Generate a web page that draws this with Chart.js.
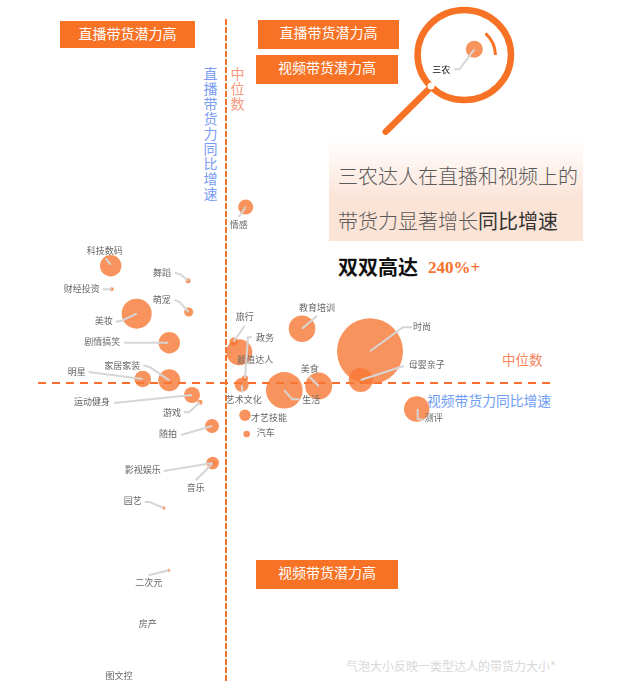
<!DOCTYPE html>
<html>
<head>
<meta charset="utf-8">
<script src="https://cdn.jsdelivr.net/npm/chart.js@4"></script>
<style>
body { margin: 0; background: #fff; font-family: "Noto Sans CJK SC", sans-serif; }
#wrap { position: relative; width: 635px; height: 695px; overflow: hidden; }
#wrap canvas, #wrap svg { position: absolute; left: 0; top: 0; }
.banner { position: absolute; background: #f77225; color: #fff; font-size: 14px; line-height: 24px; text-align: center; }
.note { position: absolute; white-space: nowrap; line-height: 1; }
.vert { position: absolute; width: 15px; font-size: 14px; line-height: 15px; text-align: center; }
#panel { position: absolute; left: 329px; top: 140px; width: 254px; height: 101px; background: linear-gradient(to bottom, rgba(251,224,208,0), #fbe3d6 60%, #fbe3d6); }
</style>
</head>
<body>
<div id="wrap">
  <svg width="635" height="695">
    <ellipse cx="464.3" cy="55" rx="46.7" ry="45" fill="none" stroke="#f77225" stroke-width="6.5"/>
    <line x1="430.7" y1="87.3" x2="385.7" y2="131.7" stroke="#f77225" stroke-width="6.5" stroke-linecap="round"/>
    <circle cx="431" cy="86" r="3.5" fill="#fff"/>
    <path d="M485.5 33.3 A30.5 30.5 0 0 1 495.5 55" fill="none" stroke="#f77225" stroke-width="3"/>
  </svg>
  <div class="banner" style="left:60px;top:21px;width:135px;height:27px">直播带货潜力高</div>
  <div class="banner" style="left:258px;top:20px;width:141px;height:29px">直播带货潜力高</div>
  <div class="banner" style="left:256px;top:55px;width:142px;height:29px">视频带货潜力高</div>
  <div class="banner" style="left:256px;top:560px;width:142px;height:29px">视频带货潜力高</div>
  <div class="vert" style="left:203px;top:66px;color:#7a9cf2">直播带货力同比增速</div>
  <div class="vert" style="left:230px;top:66px;color:#f59a7c">中位数</div>
  <div class="note" style="left:502px;top:353px;font-size:13.5px;color:#f4845a">中位数</div>
  <div class="note" style="left:427px;top:394px;font-size:13.8px;color:#6f9cf5">视频带货力同比增速</div>
  <div class="note" style="left:346px;top:660px;font-size:12px;color:#d8d8d8">气泡大小反映一类型达人的带货力大小*</div>
  <div id="panel"></div>
  <div class="note" style="left:338px;top:166px;font-size:20px;color:#5a5a5a;font-weight:300">三农达人在直播和视频上的</div>
  <div class="note" style="left:338px;top:211px;font-size:20px;color:#5a5a5a;font-weight:300">带货力显著增长<span style="color:#333;font-weight:400">同比增速</span></div>
  <div class="note" style="left:338px;top:257px;font-size:20px;color:#111;font-weight:700">双双高达</div>
  <div class="note" style="left:428px;top:259px;font-size:17px;color:#f4702c;font-weight:700;font-family:'Liberation Serif',serif">240%+</div>
  <canvas id="myChart" width="635" height="695"></canvas>
</div>
<script>
const categories = ['三农', '情感', '科技数码', '舞蹈', '财经投资', '萌宠', '美妆', '剧情搞笑', '家居家装', '明星', '运动健身', '游戏', '随拍', '影视娱乐', '音乐', '园艺', '二次元', '房产', '图文控', '旅行', '颜值达人', '政务', '艺术文化', '才艺技能', '汽车', '生活', '美食', '教育培训', '时尚', '母婴亲子', '测评'];
const videoGrowth = [248.3, 19.7, -115.3, -38, -114.3, -37.3, -89.3, -56.7, -56.7, -83.3, -34, -26, -14, -13.3, -13.3, -62.3, -57.3, -78.3, -107, 7.7, 13.3, 19, 15.7, 19, 20.7, 58.3, 92.7, 76, 144, 134.7, 190.7];
const liveGrowth = [333.7, 176, 117.3, 102.3, 93.7, 71, 69.3, 40.3, 2.7, 4, -12, -19.3, -43, -80, -80.3, -125, -187.3, -240.3, -293, 41.3, 30.7, 4.7, -1.7, -32.3, -51, -7.3, -3, 54.3, 31.7, 3, -26];
const salesPower = [8.5, 7.5, 10.7, 2.5, 2, 4.5, 15, 10.7, 11, 8.3, 8, 2.5, 7, 6.3, 2.5, 1.7, 1.5, 0, 0, 4.3, 13, 3, 7, 5.7, 3.3, 18.3, 13.5, 13.3, 33, 12, 12.7];

// label position and leader line for each bubble, pixels from the bubble centre
const callouts = {
    '三农': { label: [-33, 20], line: [[0, 0], [-15, 20], [-20, 20]], color: '#111' },
    '情感': { label: [-7, 18], line: [[0, 0], [-7, 10]] },
    '科技数码': { label: [-6, -15], line: [[-5, -7], [0, -1]] },
    '舞蹈': { label: [-26, -8], line: [[-13, -8], [-7, -6], [0, 0]] },
    '财经投资': { label: [-30, -1], line: [[-9, 0], [0, 0]] },
    '萌宠': { label: [-27, -12], line: [[-14, -12], [-9, -10], [0, 0]] },
    '美妆': { label: [-33, 7], line: [[-21, 8], [-15, 7], [0, 0]] },
    '剧情搞笑': { label: [-67, -1], line: [[-45, 0], [-1, 0]] },
    '家居家装': { label: [-47, -15], line: [[-26, -15], [-19, -13], [0, 0]] },
    '明星': { label: [-66, -7], line: [[-54, -7], [0, 0]] },
    '运动健身': { label: [-100, 7], line: [[-78, 8], [0, 0]] },
    '游戏': { label: [-28, 10], line: [[-16, 10], [-11, 10], [0, 0]] },
    '随拍': { label: [-44, 8], line: [[-31, 9], [0, 0]] },
    '影视娱乐': { label: [-70, 7], line: [[-49, 8], [0, 0]] },
    '音乐': { label: [-17, 24], line: [[-17, 17], [0, 0]] },
    '园艺': { label: [-31, -7], line: [[-19, -6], [-14, -6], [0, 0]] },
    '二次元': { label: [-20, 12], line: [[-20, 5], [0, 0]] },
    '房产': { label: [0, 0] },
    '图文控': { label: [0, 0] },
    '旅行': { label: [11, -25], line: [[11, -16], [0, 0]] },
    '颜值达人': { label: [16, 7] },
    '政务': { label: [20, -41], line: [[7, -41], [3, -41], [0, 0]] },
    '艺术文化': { label: [2, 15], line: [[0, 1], [1, 8]] },
    '才艺技能': { label: [24, 2] },
    '汽车': { label: [19, -1] },
    '生活': { label: [27, 9], line: [[0, 0], [8, 9], [15, 9]] },
    '美食': { label: [-9, -17], line: [[-9, -9], [0, 0]] },
    '教育培训': { label: [15, -21], line: [[15, -13], [0, 0]] },
    '时尚': { label: [52, -25], line: [[0, 0], [33, -24], [42, -24]] },
    '母婴亲子': { label: [66, -15], line: [[0, 0], [43, -14]] },
    '测评': { label: [17, 9], line: [[1, 0], [1, 10], [7, 11]] }
};

const bubbles = categories.map((name, i) => ({ x: videoGrowth[i], y: liveGrowth[i], r: salesPower[i] }));

// dashed median lines, under the bubbles
const medianLines = {
    id: 'medianLines',
    beforeDatasetsDraw(chart) {
        const ctx = chart.ctx;
        const x0 = chart.scales.x.getPixelForValue(0);
        const y0 = chart.scales.y.getPixelForValue(0);
        ctx.save();
        ctx.strokeStyle = '#f4702c';
        ctx.lineWidth = 2;
        ctx.setLineDash([6, 2]);
        ctx.beginPath();
        ctx.moveTo(x0, 19);
        ctx.lineTo(x0, 682);
        ctx.stroke();
        ctx.setLineDash([8, 6]);
        ctx.beginPath();
        ctx.moveTo(38, y0);
        ctx.lineTo(550, y0);
        ctx.stroke();
        ctx.restore();
    }
};

// leader lines and names, over the bubbles
const bubbleLabels = {
    id: 'bubbleLabels',
    afterDatasetsDraw(chart) {
        const ctx = chart.ctx;
        ctx.save();
        ctx.textAlign = 'center';
        ctx.textBaseline = 'middle';
        ctx.font = '9px "Noto Sans CJK SC"';
        ctx.lineWidth = 2;
        ctx.strokeStyle = '#d6d6d6';
        categories.forEach((name, i) => {
            const cx = chart.scales.x.getPixelForValue(videoGrowth[i]);
            const cy = chart.scales.y.getPixelForValue(liveGrowth[i]);
            const c = callouts[name];
            if (c.line) {
                ctx.beginPath();
                c.line.forEach((p, j) => {
                    if (j === 0) {
                        ctx.moveTo(cx + p[0], cy + p[1]);
                    } else {
                        ctx.lineTo(cx + p[0], cy + p[1]);
                    }
                });
                ctx.stroke();
            }
            ctx.fillStyle = c.color || '#666';
            ctx.fillText(name, cx + c.label[0], cy + c.label[1]);
        });
        ctx.restore();
    }
};

new Chart(document.getElementById('myChart').getContext('2d'), {
    type: 'bubble',
    data: {
        labels: categories,
        datasets: [{
            data: bubbles,
            backgroundColor: 'rgba(248, 120, 52, 0.8)',
            borderWidth: 0,
            hoverBorderWidth: 0
        }]
    },
    options: {
        responsive: false,
        animation: false,
        layout: { padding: 0, autoPadding: false },
        clip: false,
        plugins: { legend: { display: false }, tooltip: { enabled: false } },
        scales: {
            x: { type: 'linear', display: false, min: -226, max: 409 },
            y: { type: 'linear', display: false, min: -312, max: 383 }
        }
    },
    plugins: [medianLines, bubbleLabels]
});
</script>
</body>
</html>
